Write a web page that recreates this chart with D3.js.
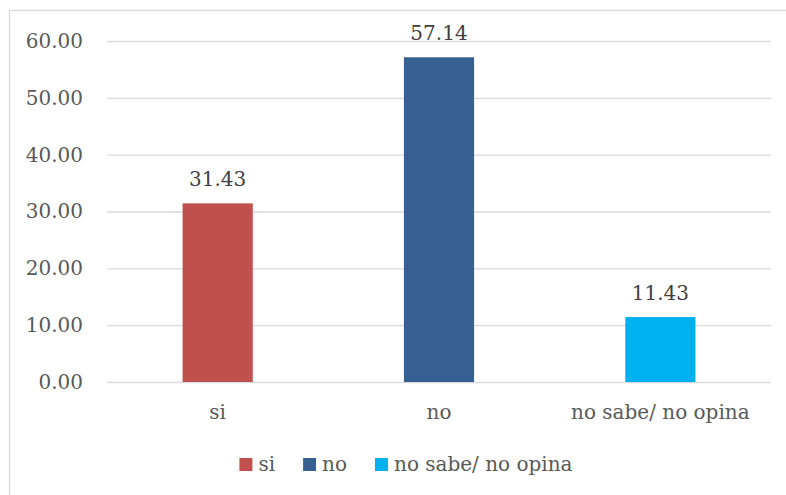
<!DOCTYPE html>
<html>
<head>
<meta charset="utf-8">
<script src="https://cdn.jsdelivr.net/npm/d3@7"></script>
<style>
  body { margin: 0; background: #fff; }
  text { font-family: "DejaVu Serif", serif; }
</style>
</head>
<body>
<svg id="chart"></svg>
<script>
// data
const categories = ["si", "no", "no sabe/ no opina"];
const values = [31.43, 57.14, 11.43];
const colors = ["#C0504D", "#366092", "#00B0F0"];
const yTicks = [0, 10, 20, 30, 40, 50, 60];

const width = 786, height = 495;
const margin = { top: 41, right: 15, bottom: 113, left: 107 };

const svg = d3.select("#chart")
    .attr("width", width)
    .attr("height", height);

// outer frame (cropped on right and bottom like the picture)
svg.append("rect")
    .attr("x", 9.5).attr("y", 10.5)
    .attr("width", 820).attr("height", 520)
    .attr("fill", "none")
    .attr("stroke", "#D9D9D9")
    .attr("stroke-width", 1.3);

const g = svg.append("g")
    .attr("transform", `translate(${margin.left},${margin.top})`);

const innerW = width - margin.left - margin.right;
const innerH = height - margin.top - margin.bottom;

// scales
const x = d3.scaleBand()
    .domain(categories)
    .range([0, innerW])
    .paddingInner(0.683)
    .paddingOuter(0.3415);

const y = d3.scaleLinear()
    .domain([0, 60])
    .range([innerH, 0]);

// gridlines
g.selectAll(".grid")
  .data(yTicks)
  .join("line")
    .attr("x1", 0).attr("x2", innerW)
    .attr("y1", d => y(d) + 0.5).attr("y2", d => y(d) + 0.5)
    .attr("stroke", "#D9D9D9")
    .attr("stroke-width", 1.3);

// y axis labels
const yAxis = d3.axisLeft(y)
    .tickValues(yTicks)
    .tickFormat(d3.format(".2f"))
    .tickSize(0)
    .tickPadding(24);

g.append("g")
    .call(yAxis)
    .call(a => a.select(".domain").remove())
    .selectAll("text")
      .attr("fill", "#595959")
      .style("font-size", "20px")
      .style("font-family", "DejaVu Serif");

// x axis labels
const xAxis = d3.axisBottom(x).tickSize(0).tickPadding(23);
g.append("g")
    .attr("transform", `translate(0,${innerH})`)
    .call(xAxis)
    .call(a => a.select(".domain").remove())
    .selectAll("text")
      .attr("fill", "#595959")
      .style("font-size", "20px")
      .style("font-family", "DejaVu Serif");

// bars
g.selectAll(".bar")
  .data(values)
  .join("rect")
    .attr("x", (d, i) => x(categories[i]))
    .attr("y", d => y(d))
    .attr("width", x.bandwidth())
    .attr("height", d => innerH - y(d))
    .attr("fill", (d, i) => colors[i]);

// data labels
g.selectAll(".lbl")
  .data(values)
  .join("text")
    .attr("x", (d, i) => x(categories[i]) + x.bandwidth() / 2)
    .attr("y", d => y(d) - 17)
    .attr("text-anchor", "middle")
    .attr("fill", "#404040")
    .style("font-size", "20px")
    .text(d => d.toFixed(2));

// legend
const legend = svg.append("g");
const items = legend.selectAll("g")
  .data(categories)
  .join("g");
items.append("rect")
    .attr("width", 13).attr("height", 13)
    .attr("y", -13)
    .attr("fill", (d, i) => colors[i]);
items.append("text")
    .attr("x", 19)
    .attr("y", 0)
    .attr("fill", "#595959")
    .style("font-size", "20px")
    .text(d => d);

let lx = 0;
items.each(function() {
  const w = this.getBBox().width;
  d3.select(this).attr("transform", `translate(${lx},0)`);
  lx += w + 28;
});
const totalW = lx - 28;
legend.attr("transform", `translate(${406 - totalW / 2},${471})`);
</script>
</body>
</html>
